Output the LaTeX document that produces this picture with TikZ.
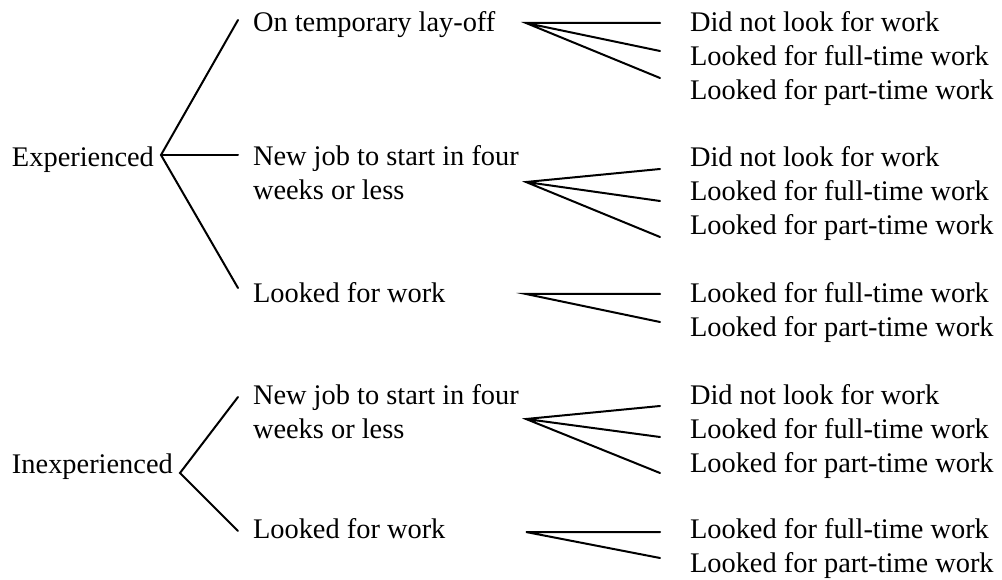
\documentclass[tikz,border=0pt]{standalone}
\usepackage{fontspec}
\setmainfont{Liberation Serif}
\begin{document}
\begin{tikzpicture}[x=1pt,y=-1pt,
  lbl/.style={anchor=base west,inner sep=0pt,outer sep=0pt,align=left,
    font=\fontsize{28.4}{34}\selectfont},
  br/.style={line width=2pt,line cap=round,line join=miter}]
\useasboundingbox (0,0) rectangle (1002,580);
% left labels
\node[lbl] (exp) at (12,167) {Experienced};
\node[lbl] (inexp) at (12,473) {Inexperienced};
% middle labels (multi-line nodes anchor at the last line)
\node[lbl] (m1) at (253,32) {On temporary lay-off};
\node[lbl] (m2) at (253,200) {New job to start in four\\weeks or less};
\node[lbl] (m3) at (253,302) {Looked for work};
\node[lbl] (m4) at (253,438) {New job to start in four\\weeks or less};
\node[lbl] (m5) at (253,538) {Looked for work};
% right labels
\node[lbl] (r11) at (690,32) {Did not look for work};
\node[lbl] (r12) at (690,66) {Looked for full-time work};
\node[lbl] (r13) at (690,100) {Looked for part-time work};
\node[lbl] (r21) at (690,167) {Did not look for work};
\node[lbl] (r22) at (690,201) {Looked for full-time work};
\node[lbl] (r23) at (690,235) {Looked for part-time work};
\node[lbl] (r31) at (690,302) {Looked for full-time work};
\node[lbl] (r32) at (690,336) {Looked for part-time work};
\node[lbl] (r41) at (690,404) {Did not look for work};
\node[lbl] (r42) at (690,438) {Looked for full-time work};
\node[lbl] (r43) at (690,472) {Looked for part-time work};
\node[lbl] (r51) at (690,538) {Looked for full-time work};
\node[lbl] (r52) at (690,572) {Looked for part-time work};
% junctions
\coordinate (E) at (161,155);
\coordinate (I) at (180,473);
\coordinate (E1) at (238,20);
\coordinate (E2) at (238,155);
\coordinate (E3) at (238,288);
\coordinate (I1) at (238,397);
\coordinate (I2) at (238,531);
\draw[br] (E1) -- (E) -- (E3);
\draw[br] (E) -- (E2);
\draw[br] (I1) -- (I) -- (I2);
% fans
\coordinate (F1) at (526,23);
\coordinate (F2) at (526,182);
\coordinate (F3) at (526,294);
\coordinate (F4) at (526,419);
\coordinate (F5) at (526,532);
\coordinate (F11) at (660,23);
\coordinate (F12) at (660,51);
\coordinate (F13) at (660,78);
\coordinate (F21) at (660,169);
\coordinate (F22) at (660,201);
\coordinate (F23) at (660,237);
\coordinate (F31) at (660,294);
\coordinate (F32) at (660,322);
\coordinate (F41) at (660,406);
\coordinate (F42) at (660,437);
\coordinate (F43) at (660,473);
\coordinate (F51) at (660,532);
\coordinate (F52) at (660,558);
\draw[br] (F11) -- (F1) -- (F13) (F1) -- (F12);
\draw[br] (F21) -- (F2) -- (F23) (F2) -- (F22);
\draw[br] (F31) -- (F3) -- (F32);
\draw[br] (F41) -- (F4) -- (F43) (F4) -- (F42);
\draw[br] (F51) -- (F5) -- (F52);
\end{tikzpicture}
\end{document}
